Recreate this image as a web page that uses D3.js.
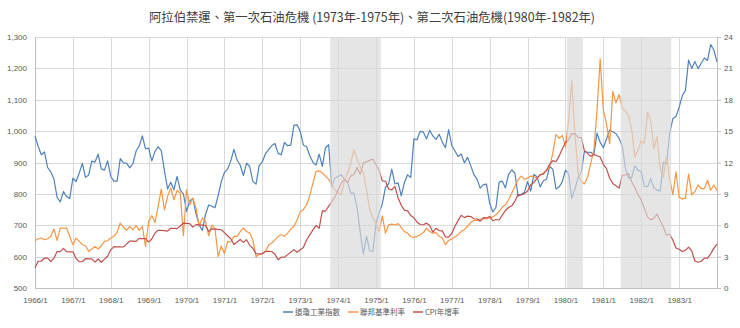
<!DOCTYPE html>
<html><head><meta charset="utf-8">
<script src="https://cdn.jsdelivr.net/npm/d3@7"></script>
<style>body{margin:0;background:#fff}svg{display:block}</style>
</head><body><svg id="c" width="740" height="328"></svg>
<script>
const startYear = 1966, nMonths = 217;
const months = d3.range(nMonths).map(i => `${startYear + Math.floor(i / 12)}/${i % 12 + 1}`);
const yearTicks = d3.range(1966, 1984).map(y => `${y}/1`);
const leftTicks = [500, 600, 700, 800, 900, 1000, 1100, 1200, 1300];
const rightTicks = [0, 3, 6, 9, 12, 15, 18, 21, 24];
const seriesNames = ["道瓊工業指數", "聯邦基準利率", "CPI年增率"];
const titleText = "阿拉伯禁運、第一次石油危機 (1973年-1975年)、第二次石油危機(1980年-1982年)";

const djia = [
983.51,951.89,924.77,933.68,884.07,870.10,847.38,788.41,774.22,807.07,791.59,785.69,
849.89,839.37,865.98,897.05,852.56,860.26,904.24,901.29,926.66,879.74,875.81,905.11,
855.47,840.50,840.67,912.22,899.00,897.80,883.00,896.01,935.79,952.39,985.08,943.75,
946.05,905.21,935.48,950.18,937.56,873.19,815.47,836.72,813.09,855.99,812.30,800.36,
744.06,777.59,785.57,736.07,700.44,683.53,734.12,764.58,760.68,755.61,794.09,838.92,
868.50,878.83,904.37,941.75,907.81,891.14,858.43,898.07,887.19,839.00,831.34,890.20,
902.17,928.13,940.70,954.17,960.72,929.03,924.74,963.73,953.27,955.52,1018.21,1020.02,
999.02,955.07,951.01,921.43,901.41,891.71,926.40,887.57,947.10,956.58,822.25,850.86,
855.55,860.53,846.68,836.75,802.17,802.41,757.43,678.58,607.87,665.52,618.66,616.24,
703.69,739.05,768.15,821.34,832.29,878.99,831.51,835.34,793.88,836.04,860.67,852.41,
975.28,972.61,999.45,996.85,975.23,1002.78,984.64,973.74,990.19,964.93,947.22,1004.65,
954.37,936.42,919.13,926.90,898.66,916.30,890.07,861.49,847.11,818.35,829.70,831.17,
769.92,742.12,757.36,837.32,840.61,818.95,862.27,876.82,865.82,792.45,799.03,805.01,
839.22,808.82,862.18,854.90,822.33,841.98,846.42,887.63,878.58,815.70,822.35,838.74,
875.85,863.14,785.75,817.06,850.85,867.92,935.32,932.59,932.42,924.49,993.34,963.99,
947.27,974.58,1003.87,997.75,991.75,976.88,952.34,881.47,849.98,852.55,888.98,875.00,
871.10,824.39,822.77,848.36,819.54,811.93,808.60,901.31,896.25,991.72,1039.28,1046.54,
1075.70,1112.62,1130.03,1226.20,1199.98,1221.96,1199.22,1216.16,1233.13,1225.20,1276.02,1258.64,
1220.58];

const fedFunds = [
4.52,4.71,4.78,4.62,4.71,4.94,5.64,4.55,5.73,5.73,5.73,4.94,
4.14,4.78,4.46,4.14,4.04,3.50,3.73,3.98,3.73,4.04,4.46,4.52,
4.78,4.94,5.32,6.21,5.83,5.51,5.89,5.57,5.96,5.51,5.89,3.98,
6.37,6.91,6.27,7.80,9.46,7.48,8.76,9.56,8.44,9.33,9.08,5.00,
9.40,7.96,8.60,7.64,5.90,6.70,6.40,5.00,6.00,5.70,3.00,4.00,
3.30,4.46,4.40,4.94,4.94,5.40,5.73,5.40,5.25,4.60,3.00,3.20,
3.30,3.50,4.10,4.30,4.60,4.94,5.10,4.94,5.25,5.60,5.90,6.50,
7.30,7.50,7.96,8.80,10.00,11.15,11.20,11.00,10.70,10.40,9.90,9.40,
9.10,8.90,10.30,11.00,11.90,13.20,12.30,11.60,11.00,9.40,7.50,6.70,
6.20,5.40,6.90,5.25,6.05,6.10,6.05,6.15,5.80,5.40,5.25,4.90,
4.84,4.94,5.10,5.30,5.73,5.40,5.25,5.30,4.94,4.78,4.14,4.55,
4.68,4.87,5.10,5.40,5.60,5.90,6.27,6.47,6.47,6.60,6.60,6.60,
6.70,6.80,7.00,7.30,7.74,7.96,8.44,9.08,9.70,10.35,10.70,10.40,
10.50,10.70,10.67,10.50,10.80,11.00,11.20,11.60,12.90,14.70,14.30,14.60,
13.50,16.10,19.80,14.80,10.96,10.20,9.95,10.60,11.90,13.20,17.00,21.90,
17.00,15.70,13.80,18.80,17.70,18.50,17.20,16.90,16.50,15.10,12.50,13.20,
14.10,13.80,16.80,16.00,13.30,14.50,11.40,10.60,12.50,10.50,8.90,11.10,
8.70,8.50,8.60,10.90,8.90,9.20,9.85,9.50,9.50,10.30,9.35,9.85,
9.35];

const cpi = [
1.92,2.56,2.56,2.87,2.86,2.53,2.85,3.48,3.47,3.79,3.47,3.46,
3.46,2.83,2.51,2.51,2.80,2.79,2.78,2.47,2.77,2.46,2.76,3.04,
3.65,3.95,3.94,3.93,3.92,4.20,4.49,4.48,4.46,4.75,4.73,4.72,
4.40,4.68,5.25,5.52,5.51,5.48,5.44,5.71,5.70,5.68,5.93,6.20,
6.18,6.15,5.82,6.06,6.04,6.01,5.98,5.41,5.66,5.63,5.60,5.57,
5.29,5.00,4.71,4.16,4.40,4.64,4.36,4.62,4.08,3.80,3.28,3.27,
3.27,3.51,3.50,3.49,3.23,2.71,2.95,2.94,3.19,3.42,3.67,3.41,
3.65,3.87,4.59,5.06,5.53,5.99,5.71,7.38,7.36,7.80,8.25,8.71,
9.39,10.02,10.39,10.09,10.71,10.86,11.51,10.86,11.97,12.06,12.20,12.34,
11.80,11.23,10.25,10.21,9.47,9.39,9.72,8.60,7.91,7.44,7.38,6.94,
6.72,6.29,6.07,6.05,6.20,5.97,5.35,5.71,5.49,5.46,4.88,4.86,
5.22,5.91,6.44,6.95,6.73,6.87,6.83,6.62,6.60,6.39,6.72,6.70,
6.84,6.43,6.55,6.50,6.97,7.41,7.70,7.86,8.31,8.93,8.89,9.02,
9.28,9.86,10.09,10.49,10.85,10.89,11.26,11.82,12.18,12.07,12.61,13.29,
13.91,14.18,14.76,14.73,14.41,14.38,13.13,12.87,12.60,12.77,12.65,12.52,
11.83,11.41,10.49,10.00,9.78,9.55,10.76,10.80,10.95,10.14,9.59,8.92,
8.39,7.62,6.78,6.51,6.68,7.06,6.44,5.85,5.04,5.14,4.59,3.83,
3.71,3.49,3.60,3.90,3.55,2.58,2.46,2.56,2.86,2.85,3.27,3.79,
4.19];

const bands = [["1973/11", "1975/2"], ["1980/2", "1980/6"], ["1981/7", "1982/10"]];

const colors = ["#4F81BD", "#F79646", "#C0504D"];
const textColor = "#595959";
const gridColor = "#d9d9d9";

const W = 740, H = 328;
const L = 35, R = 717, T = 37, B = 288;
const svg = d3.select("#c");

const x = d3.scalePoint().domain(months).range([L, R]);
const yL = d3.scaleLinear().domain([500, 1300]).range([B, T]);
const yR = d3.scaleLinear().domain([0, 24]).range([B, T]);

// gridlines
svg.append("g").selectAll("line").data(leftTicks).join("line")
  .attr("x1", L).attr("x2", R)
  .attr("y1", d => Math.round(yL(d)) + 0.5).attr("y2", d => Math.round(yL(d)) + 0.5)
  .attr("stroke", gridColor).attr("stroke-width", 1);
svg.append("g").selectAll("line").data(yearTicks).join("line")
  .attr("x1", d => Math.round(x(d)) + 0.5).attr("x2", d => Math.round(x(d)) + 0.5)
  .attr("y1", T).attr("y2", B)
  .attr("stroke", gridColor).attr("stroke-width", 1);

// axes
const fmt = d3.format(",");
const gL = svg.append("g").attr("transform", `translate(${L},0)`)
  .call(d3.axisLeft(yL).tickValues(leftTicks).tickSize(0).tickPadding(8).tickFormat(fmt));
const gR = svg.append("g").attr("transform", `translate(${R},0)`)
  .call(d3.axisRight(yR).tickValues(rightTicks).tickSize(4).tickPadding(3));
const gB = svg.append("g").attr("transform", `translate(0,${B})`)
  .call(d3.axisBottom(x).tickValues(yearTicks).tickSize(0).tickPadding(9));
[gL, gR, gB].forEach(g => {
  g.select(".domain").attr("stroke", "#bfbfbf");
  g.selectAll(".tick line").attr("stroke", "#bfbfbf");
  g.selectAll("text").attr("fill", textColor)
    .style("font-family", "'Liberation Sans', Arial, sans-serif").style("font-size", "8px");
});

// lines
const lineL = d3.line().x((d, i) => x(months[i])).y(d => yL(d));
const lineR = d3.line().x((d, i) => x(months[i])).y(d => yR(d));
const series = [[djia, lineL], [fedFunds, lineR], [cpi, lineR]];
series.forEach(([data, gen], k) => {
  svg.append("path").datum(data).attr("d", gen)
    .attr("fill", "none").attr("stroke", colors[k])
    .attr("stroke-width", 1.2).attr("stroke-linejoin", "round");
});

// shaded periods (overlay)
const step = x.step();
svg.append("g").selectAll("rect").data(bands).join("rect")
  .attr("x", d => x(d[0]) - step / 2)
  .attr("width", d => x(d[1]) - x(d[0]) + step)
  .attr("y", T).attr("height", B - T)
  .attr("fill", "#d9d9d9").attr("fill-opacity", 0.68);

// title
svg.append("text").attr("x", 372).attr("y", 22).attr("text-anchor", "middle")
  .attr("fill", "#404040")
  .style("font-family", "'Noto Sans CJK TC', 'Noto Sans', sans-serif")
  .style("font-size", "12.5px")
  .attr("textLength", 446).attr("lengthAdjust", "spacingAndGlyphs")
  .text(titleText);

// legend
const legX = [283, 348, 413];
const lg = svg.append("g");
seriesNames.forEach((n, k) => {
  lg.append("line").attr("x1", legX[k]).attr("x2", legX[k] + 10)
    .attr("y1", 312).attr("y2", 312).attr("stroke", colors[k]).attr("stroke-width", 1.5);
  lg.append("text").attr("x", legX[k] + 12).attr("y", 314.5)
    .attr("fill", textColor)
    .style("font-family", "'Noto Sans CJK TC', sans-serif").style("font-size", "7.5px")
    .text(n);
});
</script></body></html>
